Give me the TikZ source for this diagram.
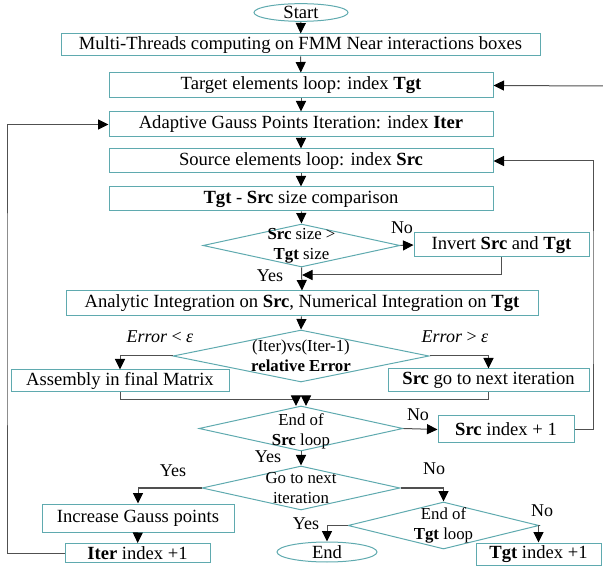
\documentclass[tikz,border=0pt]{standalone}
\usepackage{fontspec}
\setmainfont{Liberation Serif}
\usetikzlibrary{shapes.geometric,arrows.meta}
\definecolor{boxline}{RGB}{95,170,175}
\definecolor{conn}{RGB}{80,80,80}
\begin{document}
\begin{tikzpicture}[x=1pt,y=-1pt,
  box/.style={draw=boxline, line width=1pt, rectangle, inner sep=0pt, font=\fontsize{18.6}{20}\selectfont},
  dia/.style={draw=boxline, line width=1pt, diamond, inner sep=0pt},
  dtext/.style={align=center, font=\fontsize{16.8}{20}\selectfont, inner sep=0pt},
  oval/.style={draw=boxline, line width=1pt, ellipse, inner sep=0pt, font=\fontsize{18.6}{20}\selectfont},
  lab/.style={font=\fontsize{18}{20}\selectfont, inner sep=0pt},
  arr/.style={draw=conn, line width=1pt, -{Triangle[length=10.5pt,width=10pt,color=black]}},
  ln/.style={draw=conn, line width=1pt}
]
\useasboundingbox (0,0) rectangle (603,569);

% nodes
\node[oval, minimum width=94pt, minimum height=17pt] (start) at (301,12.5) {Start};
\node[box, minimum width=479pt, minimum height=22pt] (multi) at (300.5,45) {Multi-Threads computing on FMM Near interactions boxes};
\node[box, minimum width=384pt, minimum height=25pt] (target) at (301,85.5) {Target elements loop: index \textbf{Tgt}};
\node[box, minimum width=384pt, minimum height=25pt] (adaptive) at (301,124.5) {Adaptive Gauss Points Iteration: index \textbf{Iter}};
\node[box, minimum width=384pt, minimum height=24pt] (source) at (301,161) {Source elements loop: index \textbf{Src}};
\node[box, minimum width=384pt, minimum height=24pt] (comp) at (301,199) {\textbf{Tgt} - \textbf{Src} size comparison};

\node[dia, minimum width=197pt, minimum height=43pt] (d1) at (301.5,245.5) {};
\node[dtext] (d1t) at (d1.center) {\textbf{Src} size >\\\textbf{Tgt} size};
\node[box, minimum width=175pt, minimum height=24pt] (invert) at (501.5,245) {Invert \textbf{Src} and \textbf{Tgt}};

\node[box, minimum width=472pt, minimum height=25pt] (analytic) at (302,303.5) {Analytic Integration on \textbf{Src}, Numerical Integration on \textbf{Tgt}};

\node[dia, minimum width=256pt, minimum height=52pt] (d2) at (301,356) {};
\node[dtext] (d2t) at (d2.center) {(Iter)vs(Iter-1)\\\textbf{relative Error}};
\node[box, minimum width=218pt, minimum height=22pt] (assembly) at (120,381) {Assembly in final Matrix};
\node[box, minimum width=201pt, minimum height=23pt] (srcnext) at (488.5,380.5) {\textbf{Src} go to next iteration};

\node[dia, minimum width=204pt, minimum height=45pt] (d3) at (301,428.5) {};
\node[dtext] (d3t) at (301,431) {End of\\\textbf{Src} loop};
\node[box, minimum width=136pt, minimum height=27pt] (srcinc) at (506,429.5) {\textbf{Src} index + 1};

\node[dia, minimum width=198pt, minimum height=44pt] (d4) at (301,488) {};
\node[dtext] (d4t) at (d4.center) {Go to next\\iteration};
\node[box, minimum width=192pt, minimum height=28pt] (increase) at (138,518) {Increase Gauss points};
\node[box, minimum width=145pt, minimum height=19pt] (iterinc) at (137.5,553) {\textbf{Iter} index +1};

\node[dia, minimum width=191pt, minimum height=47pt] (d5) at (443.5,525.5) {};
\node[dtext] (d5t) at (d5.center) {End of\\\textbf{Tgt} loop};
\node[oval, minimum width=100pt, minimum height=20pt] (endnode) at (327,552) {End};
\node[box, minimum width=125pt, minimum height=22pt] (tgtinc) at (538.5,554) {\textbf{Tgt} index +1};

% labels
\node[lab] (l1) at (402,228) {No};
\node[lab] (l2) at (270,276) {Yes};
\node[lab] (l3) at (160,337) {{\itshape Error} < {\itshape ε}};
\node[lab] (l4) at (455,337) {{\itshape Error} > {\itshape ε}};
\node[lab] (l5) at (418,415) {No};
\node[lab] (l6) at (268,457) {Yes};
\node[lab] (l7) at (173,471) {Yes};
\node[lab] (l8) at (434,469) {No};
\node[lab] (l9) at (306,524) {Yes};
\node[lab] (l10) at (542,511) {No};

% helper coordinates
\coordinate (rx) at (593,300);
\coordinate (lx) at (7,300);
\coordinate (tin) at (603,86);
\coordinate (yj) at (302,275);
\coordinate (mL) at (296,400);
\coordinate (mR) at (306,400);

% connectors
\draw[arr] (start) -- (multi);
\draw[arr] (multi) -- (target);
\draw[arr] (target) -- (adaptive);
\draw[arr] (adaptive) -- (source);
\draw[arr] (source) -- (comp);
\draw[arr] (comp) -- (d1.north);
\draw[arr] (d1.east) -- (invert.west);
\draw[arr] (invert.south) |- (yj);
\draw[arr] (d1.south) -- (analytic.north);
\draw[arr] (analytic) -- (d2.north);
\draw[arr] (d2.west) -| (assembly.north);
\draw[arr] (d2.east) -| (srcnext.north);
\draw[arr] (assembly.south) |- (mL) -- ++(0,6);
\draw[arr] (srcnext.south) |- (mR) -- ++(0,6);
\draw[arr] (d3.east) -- (srcinc.west);
\draw[arr] (srcinc.east) -| (rx) |- (source.east);
\draw[arr] (d3.south) -- (d4.north);
\draw[arr] (d4.west) -| (increase.north);
\draw[arr] (increase) -- (iterinc);
\draw[arr] (iterinc.west) -| (lx) |- (adaptive.west);
\draw[arr] (d4.east) -| (d5.north);
\draw[arr] (d5.west) -| (endnode.north);
\draw[arr] (d5.east) -| (tgtinc.north);
\draw[arr] (tin) -- (target.east);
\end{tikzpicture}
\end{document}
